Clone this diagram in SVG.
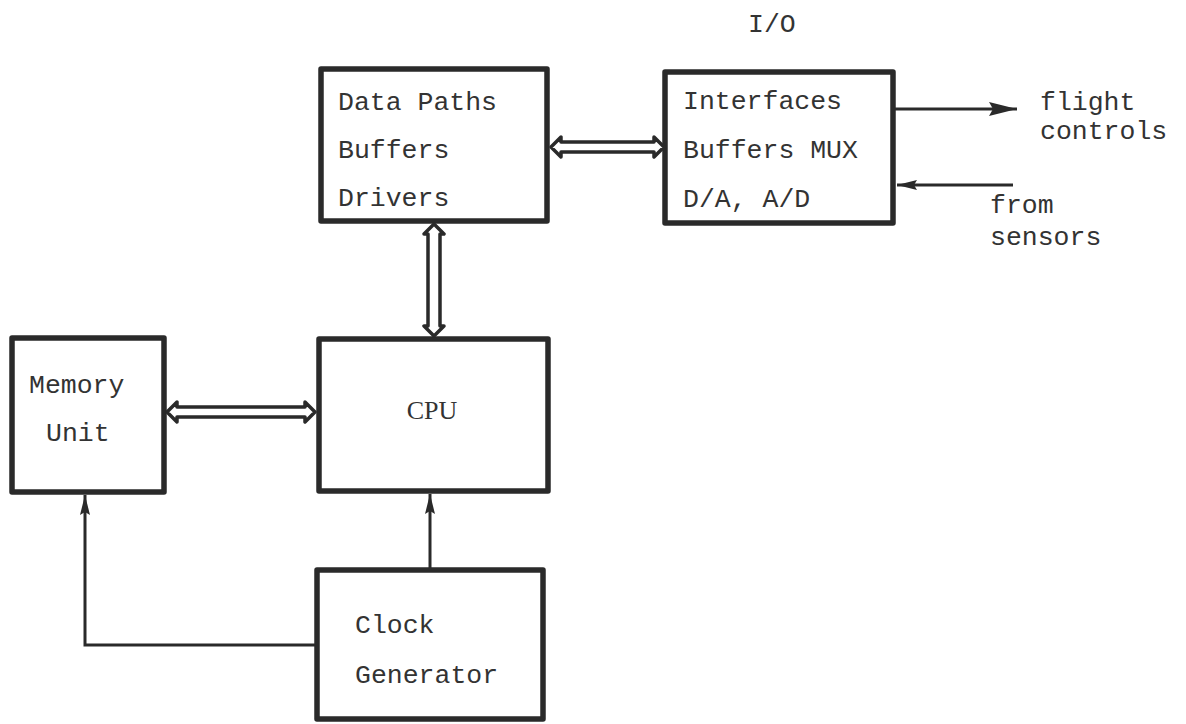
<svg xmlns="http://www.w3.org/2000/svg" width="1186" height="724" viewBox="0 0 1186 724">
<defs>
<style>
.box{fill:#fff;stroke:#2a2a2a;stroke-width:5.5;stroke-linejoin:round}
.t{font-family:"Liberation Mono","DejaVu Sans Mono",monospace;font-size:26.5px;fill:#333}
.s{font-family:"Liberation Serif","Times New Roman",serif;font-size:26px;fill:#333}
.ln{fill:none;stroke:#2a2a2a;stroke-width:3}
.bus{fill:#fff;stroke:#2a2a2a;stroke-width:3.5;stroke-linejoin:round}
</style>
<marker id="ah" viewBox="0 0 20 10" refX="20" refY="5" markerWidth="20" markerHeight="10" markerUnits="userSpaceOnUse" orient="auto">
<path d="M0,0 L20,5 L0,10 L3,5 Z" fill="#2a2a2a"/>
</marker>
<marker id="ahl" viewBox="0 0 28 14" refX="28" refY="7" markerWidth="28" markerHeight="14" markerUnits="userSpaceOnUse" orient="auto">
<path d="M0,0 L28,7 L0,14 L4,7 Z" fill="#2a2a2a"/>
</marker>
</defs>
<rect width="1186" height="724" fill="#fff"/>
<text class="t" x="748" y="32">I/O</text>
<g id="datapaths">
<rect class="box" x="321" y="69" width="226" height="152"/>
<text class="t" x="338" y="110">Data Paths</text>
<text class="t" x="338" y="158">Buffers</text>
<text class="t" x="338" y="206">Drivers</text>
</g>
<g id="interfaces">
<rect class="box" x="665" y="72" width="228" height="151"/>
<text class="t" x="683" y="109">Interfaces</text>
<text class="t" x="683" y="158">Buffers MUX</text>
<text class="t" x="683" y="207">D/A, A/D</text>
</g>
<g id="memory">
<rect class="box" x="12" y="338" width="152" height="154"/>
<text class="t" x="29" y="393">Memory</text>
<text class="t" x="46" y="441">Unit</text>
</g>
<g id="cpu">
<rect class="box" x="319" y="339" width="229" height="152"/>
<text class="s" x="432" y="419" text-anchor="middle">CPU</text>
</g>
<g id="clock">
<rect class="box" x="317" y="570" width="226" height="149"/>
<text class="t" x="355" y="633">Clock</text>
<text class="t" x="355" y="683">Generator</text>
</g>
<g id="connectors">
<path class="bus" d="M551,147 L561,137 L561,142 L654,142 L654,137 L664,147 L654,157 L654,152 L561,152 L561,157 Z"/>
<path class="bus" d="M434,224 L444,234 L440,234 L440,326 L444,326 L434,336 L424,326 L428,326 L428,234 L424,234 Z"/>
<path class="bus" d="M167,412 L177,402 L177,407 L305,407 L305,402 L315,412 L305,422 L305,417 L177,417 L177,422 Z"/>
<line class="ln" x1="430" y1="568" x2="430" y2="494" marker-end="url(#ah)"/>
<polyline class="ln" points="317,645 85,645 85,495" marker-end="url(#ah)"/>
<line class="ln" x1="895" y1="109" x2="1017" y2="109" marker-end="url(#ahl)"/>
<line class="ln" x1="1013" y1="185" x2="897" y2="185" marker-end="url(#ah)"/>
</g>
<g id="labels">
<text class="t" x="1040" y="110">flight</text>
<text class="t" x="1040" y="139">controls</text>
<text class="t" x="990" y="213">from</text>
<text class="t" x="990" y="245">sensors</text>
</g>
</svg>
